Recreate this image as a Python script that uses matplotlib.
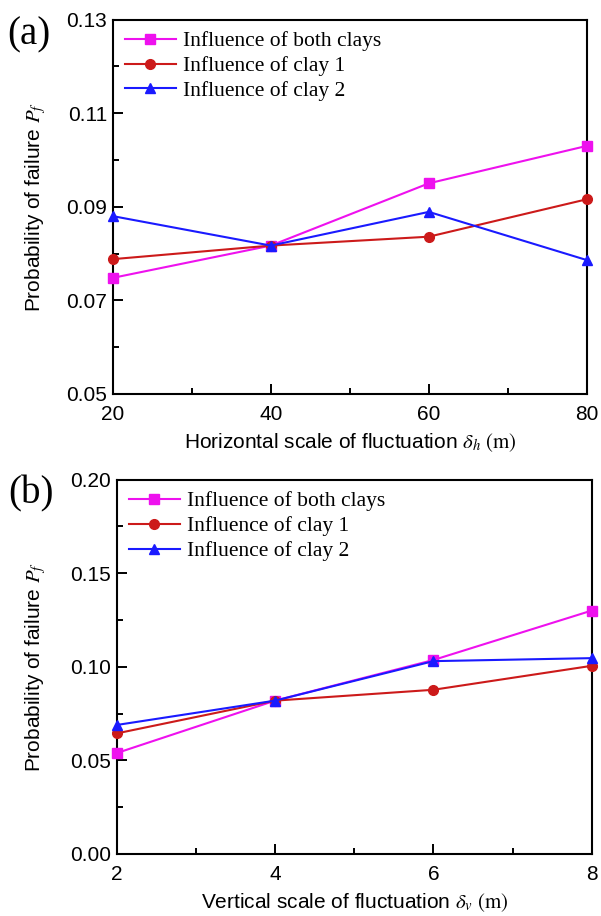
import matplotlib.pyplot as plt
from matplotlib.ticker import FixedLocator, FormatStrFormatter

plt.rcParams['font.family'] = ['Liberation Sans', 'DejaVu Sans']
plt.rcParams['mathtext.fontset'] = 'stix'

# panel (a): horizontal scale of fluctuation
dh = [20, 40, 60, 80]
pf_both_a = [0.0748, 0.0817, 0.0950, 0.1030]
pf_clay1_a = [0.0788, 0.0817, 0.0836, 0.0916]
pf_clay2_a = [0.0880, 0.0817, 0.0889, 0.0786]
yticks_a = [0.05, 0.07, 0.09, 0.11, 0.13]

# panel (b): vertical scale of fluctuation
dv = [2, 4, 6, 8]
pf_both_b = [0.0539, 0.0819, 0.1036, 0.1300]
pf_clay1_b = [0.0644, 0.0819, 0.0877, 0.1005]
pf_clay2_b = [0.0689, 0.0819, 0.1030, 0.1046]
yticks_b = [0.00, 0.05, 0.10, 0.15, 0.20]

labels = ['Influence of both clays', 'Influence of clay 1', 'Influence of clay 2']
colors = ['#ee11ee', '#cc1a1a', '#1a1aff']
markers = ['s', 'o', '^']

fig = plt.figure(figsize=(6.01, 9.16), dpi=100)
ax1 = fig.add_axes([0.1875, 0.5699, 0.789, 0.4088])
ax2 = fig.add_axes([0.1942, 0.0677, 0.7903, 0.4088])


def draw_panel(ax, x, series, yticks, xlabel, ypad):
    for y, lab, c, m in zip(series, labels, colors, markers):
        ax.plot(x, y, color=c, marker=m, markersize=7, linewidth=1.5,
                label=lab, clip_on=False, zorder=3)
    ax.set_xlim(x[0], x[-1])
    ax.set_ylim(yticks[0], yticks[-1])
    ax.set_xticks(x)
    ax.set_yticks(yticks)
    # minor ticks half way between the majors
    ax.xaxis.set_minor_locator(FixedLocator([(a + b) / 2 for a, b in zip(x[:-1], x[1:])]))
    ax.yaxis.set_minor_locator(FixedLocator([(a + b) / 2 for a, b in zip(yticks[:-1], yticks[1:])]))
    ax.yaxis.set_major_formatter(FormatStrFormatter('%.2f'))
    ax.tick_params(which='both', direction='in', top=False, right=False,
                   labelsize=15, width=1.4)
    ax.tick_params(axis='x', pad=8)
    ax.tick_params(axis='y', pad=4)
    ax.tick_params(which='major', length=7.5)
    ax.tick_params(which='minor', length=4.2)
    for s in ax.spines.values():
        s.set_linewidth(1.5)
    ax.set_xlabel(xlabel, fontsize=15, labelpad=5)
    ax.set_ylabel(r'Probability of failure $P_f$', fontsize=15, labelpad=ypad)
    ax.legend(loc='upper left', frameon=False, handlelength=2.4,
              handletextpad=0.3, labelspacing=0.22, borderaxespad=0.25,
              borderpad=0.3,
              prop={'family': 'Liberation Serif', 'size': 15.5})


draw_panel(ax1, dh, [pf_both_a, pf_clay1_a, pf_clay2_a], yticks_a,
           r'Horizontal scale of fluctuation $\delta_h\ \mathrm{(m)}$', 13)
draw_panel(ax2, dv, [pf_both_b, pf_clay1_b, pf_clay2_b], yticks_b,
           r'Vertical scale of fluctuation $\delta_v\ \mathrm{(m)}$', 16)

fig.text(0.048, 0.962, '(a)', fontsize=28, family='Liberation Serif',
         ha='center', va='center')
fig.text(0.052, 0.461, '(b)', fontsize=28, family='Liberation Serif',
         ha='center', va='center')

fig.savefig('out.png', dpi=100)
